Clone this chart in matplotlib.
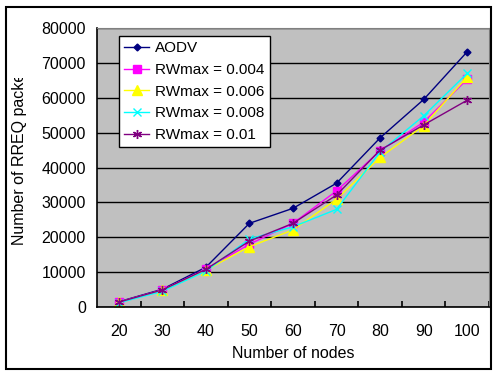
import matplotlib.pyplot as plt
from matplotlib.patches import Rectangle
from matplotlib.transforms import Bbox

plt.rcParams['font.family'] = ['Liberation Sans', 'DejaVu Sans']

# --- Dados ---
nodes = [20, 30, 40, 50, 60, 70, 80, 90, 100]
aodv = [1500, 5100, 11400, 24000, 28300, 35500, 48500, 59500, 73200]
rw_004 = [1400, 4900, 10800, 18000, 24000, 33300, 44800, 53000, 65300]
rw_006 = [1300, 4800, 10600, 17300, 22100, 30900, 42900, 52000, 66000]
rw_008 = [1200, 4500, 10300, 19500, 23000, 28000, 44500, 54800, 67000]
rw_01 = [1400, 4900, 10800, 18900, 24000, 32100, 45000, 52200, 59300]
labels = ['AODV', 'RWmax = 0.004', 'RWmax = 0.006', 'RWmax = 0.008', 'RWmax = 0.01']
y_ticks = [0, 10000, 20000, 30000, 40000, 50000, 60000, 70000, 80000]

W, H = 493, 371
fig = plt.figure(figsize=(W / 100, H / 100), dpi=100)
ax = fig.add_axes([97 / W, (H - 307) / H, 392 / W, 279 / H])
ax.set_facecolor('#C0C0C0')

x = list(range(len(nodes)))
series = [
    (aodv, '#000080', 'D', 3.5),
    (rw_004, '#FF00FF', 's', 5.5),
    (rw_006, '#FFFF00', '^', 6.5),
    (rw_008, '#00FFFF', 'x', 5.5),
    (rw_01, '#800080', (6, 2, 0), 6.5),
]
for (vals, cor, mk, ms), lab in zip(series, labels):
    ax.plot(x, vals, color=cor, marker=mk, markersize=ms, lw=1.0,
            markeredgewidth=1.0, label=lab)

# eixo Y
ax.set_ylim(0, 80000)
ax.set_yticks(y_ticks)
ax.set_yticklabels([str(v) for v in y_ticks])
ax.yaxis.grid(True, color='black', lw=1.0)
ax.set_axisbelow(True)
ax.tick_params(axis='y', length=0, pad=8, labelsize=11.5)

# eixo X categórico, marcas entre as categorias
ax.set_xlim(-0.5, len(nodes) - 0.5)
ax.set_xticks(x)
ax.set_xticklabels([str(n) for n in nodes])
ax.set_xticks([i + 0.5 for i in x], minor=True)
ax.tick_params(axis='x', which='major', length=0, pad=12, labelsize=11.5)
ax.tick_params(axis='x', which='minor', direction='in', length=4, width=1.2, color='black')

for lado in ['top', 'right']:
    ax.spines[lado].set_color('#808080')
for lado in ['left', 'bottom']:
    ax.spines[lado].set_color('black')
    ax.spines[lado].set_linewidth(1.2)

ax.set_xlabel('Number of nodes', fontsize=11.5, labelpad=5)

# rótulo Y recortado no topo
txt = fig.text(20 / W, (H - 245) / H, 'Number of RREQ packets', rotation=90,
               ha='center', va='bottom', fontsize=11.5)
txt.set_clip_box(Bbox([[0, 0], [W, H - 78]]))
txt.set_clip_on(True)

leg = ax.legend(loc='upper left', bbox_to_anchor=((119 - 97) / 392, (307 - 36) / 279),
                borderaxespad=0, fontsize=11, frameon=True, fancybox=False,
                edgecolor='black', facecolor='white', framealpha=1,
                labelspacing=0.5, handlelength=1.6, handletextpad=0.4,
                borderpad=0.35)
leg.get_frame().set_linewidth(1.0)

# moldura externa
fig.patches.append(Rectangle((6 / W, 2 / H), 485 / W, 362 / H, transform=fig.transFigure,
                             fill=False, edgecolor='black', lw=1.5))

fig.savefig('out.png', dpi=100)
